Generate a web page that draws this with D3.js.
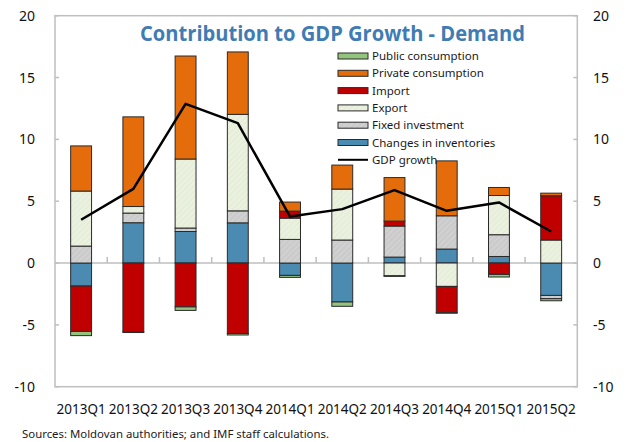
<!DOCTYPE html>
<html>
<head>
<meta charset="utf-8">
<script src="https://cdn.jsdelivr.net/npm/d3@7"></script>
<style>
  body { margin: 0; background: #fff; }
  svg { display: block; font-family: "Noto Sans", sans-serif; }
</style>
</head>
<body>
<div id="chart"></div>
<script>
// data
var quarters = ["2013Q1", "2013Q2", "2013Q3", "2013Q4", "2014Q1", "2014Q2", "2014Q3", "2014Q4", "2015Q1", "2015Q2"];
var inventories = [-1.86, 3.26, 2.55, 3.25, -1.00, -3.15, 0.48, 1.13, 0.53, -2.62];
var fixedInvestment = [1.37, 0.78, 0.28, 0.97, 1.91, 1.86, 2.51, 2.69, 1.76, -0.26];
var exportVals = [4.45, 0.53, 5.58, 7.80, 1.72, 4.12, -1.03, -1.89, 3.17, 1.86];
var importVals = [-3.67, -5.55, -3.55, -5.70, 0.57, 0.00, 0.40, -2.12, -0.92, 3.58];
var privateCons = [3.65, 7.25, 8.33, 5.05, 0.73, 1.94, 3.52, 4.44, 0.65, 0.21];
var publicCons = [-0.34, -0.07, -0.28, -0.12, -0.16, -0.35, -0.05, -0.05, -0.21, -0.17];
var gdpGrowth = [3.5, 6.0, 12.87, 11.31, 3.76, 4.36, 5.9, 4.22, 4.9, 2.55];
var yTicks = [-10, -5, 0, 5, 10, 15, 20];

// series in stacking order (legend shows them reversed)
var series = [
  {key: "inv", name: "Changes in inventories", values: inventories, fill: "#4b8ab1"},
  {key: "fix", name: "Fixed investment", values: fixedInvestment, fill: "url(#hatchFix)"},
  {key: "exp", name: "Export", values: exportVals, fill: "url(#hatchExp)"},
  {key: "imp", name: "Import", values: importVals, fill: "#c00000"},
  {key: "pri", name: "Private consumption", values: privateCons, fill: "#e46c0a"},
  {key: "pub", name: "Public consumption", values: publicCons, fill: "#93c47d"}
];

var W = 626, H = 442;
var svg = d3.select("#chart").append("svg")
  .attr("width", W)
  .attr("height", H);

// hatched fills
var defs = svg.append("defs");
function hatch(id, base, line){
  var p = defs.append("pattern")
    .attr("id", id)
    .attr("patternUnits", "userSpaceOnUse")
    .attr("width", 4)
    .attr("height", 4)
    .attr("patternTransform", "rotate(45)");
  p.append("rect").attr("width", 4).attr("height", 4).attr("fill", base);
  p.append("line").attr("x1", 0).attr("y1", 0).attr("x2", 0).attr("y2", 4)
    .attr("stroke", line).attr("stroke-width", 1.2);
}
hatch("hatchExp", "#ebf1df", "#dde7cf");
hatch("hatchFix", "#cbcbcb", "#dcdcdc");

var plotL = 55, plotR = 577.3, plotT = 15.7, plotB = 386.7;

var x = d3.scaleBand()
  .domain(quarters)
  .range([plotL, plotR])
  .paddingInner(0.6)
  .paddingOuter(0.3);

var y = d3.scaleLinear()
  .domain([-10, 20])
  .range([plotB, plotT]);

// frame
svg.append("rect")
  .attr("x", plotL).attr("y", plotT)
  .attr("width", plotR - plotL).attr("height", plotB - plotT)
  .attr("fill", "none")
  .attr("stroke", "#bfbfbf")
  .attr("stroke-width", 1.5);

// left & right ticks (inside)
svg.append("g").selectAll("line")
  .data(yTicks)
  .join("line")
  .attr("x1", plotL).attr("x2", plotL + 4)
  .attr("y1", d => y(d)).attr("y2", d => y(d))
  .attr("stroke", "#bfbfbf").attr("stroke-width", 1.5);
svg.append("g").selectAll("line")
  .data(yTicks)
  .join("line")
  .attr("x1", plotR - 4).attr("x2", plotR)
  .attr("y1", d => y(d)).attr("y2", d => y(d))
  .attr("stroke", "#bfbfbf").attr("stroke-width", 1.5);

// tick labels
svg.append("g").selectAll("text")
  .data(yTicks)
  .join("text")
  .attr("x", 35)
  .attr("y", d => y(d) + 5)
  .attr("text-anchor", "end")
  .attr("font-size", 14)
  .attr("fill", "#111")
  .text(d => d);
svg.append("g").selectAll("text")
  .data(yTicks)
  .join("text")
  .attr("x", 593)
  .attr("y", d => y(d) + 5)
  .attr("text-anchor", "start")
  .attr("font-size", 14)
  .attr("fill", "#111")
  .text(d => d);

// zero line with category ticks
svg.append("line")
  .attr("x1", plotL).attr("x2", plotR)
  .attr("y1", y(0)).attr("y2", y(0))
  .attr("stroke", "#bfbfbf").attr("stroke-width", 1.5);
svg.append("g").selectAll("line")
  .data(quarters.slice(1))
  .join("line")
  .attr("x1", d => x(d) - x.step() * x.paddingInner() / 2)
  .attr("x2", d => x(d) - x.step() * x.paddingInner() / 2)
  .attr("y1", y(0) - 6).attr("y2", y(0))
  .attr("stroke", "#bfbfbf").attr("stroke-width", 1.5);

// x labels
svg.append("g").selectAll("text")
  .data(quarters)
  .join("text")
  .attr("x", d => x(d) + x.bandwidth() / 2)
  .attr("y", 414)
  .attr("text-anchor", "middle")
  .attr("font-size", 13.5)
  .attr("fill", "#111")
  .text(d => d);

// stacked bars
var table = quarters.map(function(q, i){
  var row = {q: q};
  series.forEach(function(s){ row[s.key] = s.values[i]; });
  return row;
});
var stack = d3.stack()
  .keys(series.map(s => s.key))
  .offset(d3.stackOffsetDiverging);
var layers = stack(table);

svg.append("g").selectAll("g")
  .data(layers)
  .join("g")
  .attr("fill", (d, i) => series[i].fill)
  .selectAll("rect")
  .data(d => d.filter(p => p[1] !== p[0]))
  .join("rect")
  .attr("x", d => x(d.data.q))
  .attr("width", x.bandwidth())
  .attr("y", d => y(Math.max(d[0], d[1])))
  .attr("height", d => Math.abs(y(d[0]) - y(d[1])))
  .attr("stroke", "#2a2a2a")
  .attr("stroke-width", 1);

// GDP line
var line = d3.line()
  .x((d, i) => x(quarters[i]) + x.bandwidth() / 2)
  .y(d => y(d));
svg.append("path")
  .datum(gdpGrowth)
  .attr("d", line)
  .attr("fill", "none")
  .attr("stroke", "#000")
  .attr("stroke-width", 2.5)
  .attr("stroke-linejoin", "round");

// title
svg.append("text")
  .attr("x", 140)
  .attr("y", 41)
  .attr("font-family", "'Open Sans', sans-serif")
  .attr("font-weight", "bold")
  .attr("font-size", 21)
  .attr("fill", "#3f7cb4")
  .attr("textLength", 385)
  .attr("lengthAdjust", "spacingAndGlyphs")
  .text("Contribution to GDP Growth - Demand");

// legend
var legendItems = series.slice().reverse();
var lg = svg.append("g");
var rowH = 17.3, ly0 = 56;
legendItems.forEach(function(s, i){
  var cy = ly0 + i * rowH;
  lg.append("rect")
    .attr("x", 338).attr("y", cy - 3)
    .attr("width", 30).attr("height", 6)
    .attr("fill", s.fill)
    .attr("stroke", "#2a2a2a")
    .attr("stroke-width", 1);
  lg.append("text")
    .attr("x", 372).attr("y", cy + 4)
    .attr("font-size", 11.5)
    .attr("fill", "#1a1a1a")
    .text(s.name);
});
var gy = ly0 + legendItems.length * rowH;
lg.append("line")
  .attr("x1", 338).attr("x2", 368)
  .attr("y1", gy).attr("y2", gy)
  .attr("stroke", "#000").attr("stroke-width", 2);
lg.append("text")
  .attr("x", 372).attr("y", gy + 4)
  .attr("font-size", 11.5)
  .attr("fill", "#1a1a1a")
  .text("GDP growth");

// source note
svg.append("text")
  .attr("x", 22)
  .attr("y", 437.5)
  .attr("font-size", 11.5)
  .attr("fill", "#1a1a1a")
  .attr("textLength", 307)
  .attr("lengthAdjust", "spacingAndGlyphs")
  .text("Sources: Moldovan authorities; and IMF staff calculations.");
</script>
</body>
</html>
